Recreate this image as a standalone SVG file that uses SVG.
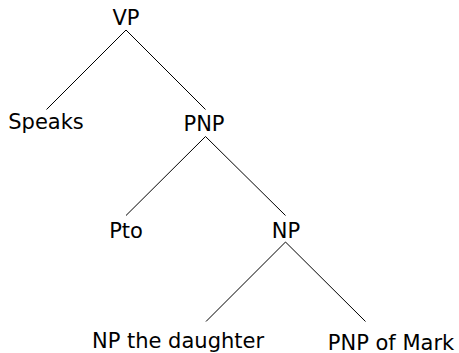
<svg xmlns="http://www.w3.org/2000/svg" width="459" height="353" viewBox="0 0 459 353">
<style>
text{font-family:"DejaVu Sans",sans-serif;font-size:21px;fill:#000;text-anchor:middle}
line{stroke:#000;stroke-width:1}
</style>
<rect width="459" height="353" fill="#fff"/>
<g id="connectors">
<line x1="126" y1="30" x2="46.5" y2="109.5"/>
<line x1="126" y1="30" x2="205.5" y2="109.5"/>
<line x1="205.5" y1="136.5" x2="126" y2="215.5"/>
<line x1="205.5" y1="136.5" x2="285.5" y2="215.5"/>
<line x1="285.5" y1="242" x2="206" y2="321.5"/>
<line x1="285.5" y1="242" x2="365.5" y2="321.5"/>
</g>
<g id="vp"><text x="126" y="24.5">VP</text></g>
<g id="speaks"><text x="46" y="129.3">Speaks</text></g>
<g id="pnp"><text x="204" y="131">PNP</text></g>
<g id="pto"><text x="126" y="237.7">Pto</text></g>
<g id="np"><text x="286" y="237.7">NP</text></g>
<g id="np-daughter"><text x="178" y="347.7">NP the daughter</text></g>
<g id="pnp-mark"><text x="391" y="350">PNP of Mark</text></g>
</svg>
